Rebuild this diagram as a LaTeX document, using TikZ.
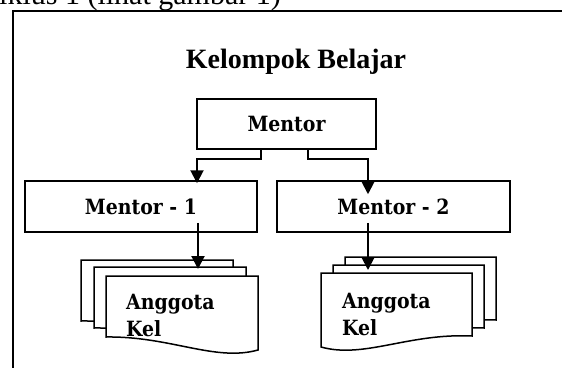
\documentclass[tikz,border=0pt]{standalone}
\usepackage{fontspec}
\setmainfont{Liberation Serif}
\newfontfamily\boxfont{DejaVu Serif Condensed}
\usetikzlibrary{arrows.meta,calc}
\begin{document}
\begin{tikzpicture}[x=1pt,y=-1pt,
  box/.style={draw,line width=1.5pt,inner sep=0pt,font=\boxfont\fontsize{21}{26}\selectfont\bfseries},
  conn/.style={line width=2pt,-{Triangle[length=13pt,width=13pt]}},
  page/.style={draw,fill=white,line width=1.5pt,line join=miter},
  doctext/.style={inner sep=0pt,anchor=north west,align=left,font=\boxfont\fontsize{21}{26.5}\selectfont\bfseries},
  docL/.pic={\path[page] (0,0) -- (152,0) -- (152,74) .. controls (109,86) and (64,60) .. (0,61) -- cycle;},
  docR/.pic={\path[page] (0,0) -- (151,0) -- (151,63) .. controls (87,60) and (43,86) .. (0,74) -- cycle;}]
\useasboundingbox (0,0) rectangle (562,367);
\clip (0,0) rectangle (562,367);
% cut-off line of text above the frame
\node[inner sep=0pt,anchor=base east,font=\fontsize{30}{32}\selectfont] (topline) at (281,4) {siklus 1 (lihat gambar 1)};
% outer frame
\draw[line width=2pt] (13,380) -- (13,11) -- (580,11);
% title
\node[inner sep=0pt,anchor=base,font=\fontsize{28}{30}\selectfont\bfseries] (title) at (296,68) {Kelompok Belajar};
% boxes
\node[box,minimum width=179pt,minimum height=50pt] (mentor) at (286.5,124) {Mentor};
\node[box,minimum width=232pt,minimum height=51pt] (mentor1) at (141,206.5) {Mentor - 1};
\node[box,minimum width=233pt,minimum height=51pt] (mentor2) at (393.5,206.5) {Mentor - 2};
% left document stack
\pic at (81,260) {docL};
\pic at (94,267) {docL};
\pic at (106,276) {docL};
\node[doctext] (anggota1) at (126,294) {Anggota\\Kel};
% right document stack
\pic at (345,257) {docR};
\pic at (333,265) {docR};
\pic at (321,273) {docR};
\node[doctext] (anggota2) at (342,293) {Anggota\\Kel};
\coordinate (doc1top) at (198,269);
\coordinate (doc2top) at (368,270);
% connectors
\draw[conn] ($(mentor.south)+(-25.5,0)$) -- ++(0,9) -| ($(mentor1.north)+(56,3)$);
\draw[conn] ($(mentor.south)+(21.5,0)$) -- ++(0,9) -| ($(mentor2.north)+(-25.5,14)$);
\draw[conn] ($(mentor1.south)+(57,-10)$) -- (doc1top);
\draw[conn] ($(mentor2.south)+(-25.5,-10)$) -- (doc2top);
\end{tikzpicture}
\end{document}
